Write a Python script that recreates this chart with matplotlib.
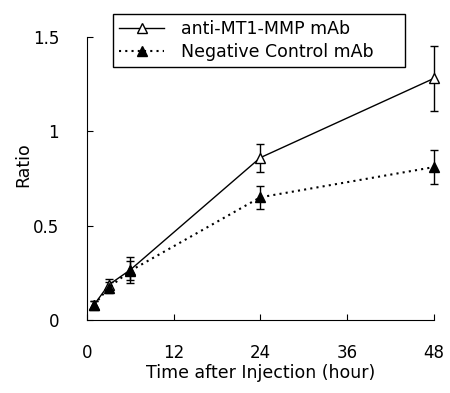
import matplotlib
matplotlib.use("Agg")
import matplotlib.pyplot as plt
from matplotlib.lines import Line2D

plt.rcParams['font.family'] = ['DejaVu Sans']

time_h = [1, 3, 6, 24, 48]
anti_mean = [0.08, 0.185, 0.265, 0.86, 1.28]
anti_err = [0.02, 0.03, 0.07, 0.075, 0.17]
ctrl_mean = [0.08, 0.17, 0.26, 0.65, 0.81]
ctrl_err = [0.02, 0.03, 0.05, 0.06, 0.09]
x_ticks = [0, 12, 24, 36, 48]
y_ticks = [0, 0.5, 1, 1.5]
y_ticklabels = ['0', '0.5', '1', '1.5']
series_labels = ['anti-MT1-MMP mAb', 'Negative Control mAb']

fig = plt.figure(figsize=(4.5, 3.93), dpi=100)
ax = fig.add_axes([0.193, 0.186, 0.771, 0.72])

dotted = (0, (1, 2))
ax.errorbar(time_h, anti_mean, yerr=anti_err, color='black', lw=1.0,
            marker='^', markersize=7.5, markerfacecolor='white', markeredgecolor='black',
            capsize=3, elinewidth=1.0, capthick=1.0, clip_on=False, zorder=3)
ax.errorbar(time_h, ctrl_mean, yerr=ctrl_err, color='black', lw=1.5, ls=dotted,
            marker='^', markersize=7.5, markerfacecolor='black', markeredgecolor='black',
            capsize=3, elinewidth=1.0, capthick=1.0, clip_on=False, zorder=3)

ax.set_xlim(0, 48)
ax.set_ylim(0, 1.5)
ax.set_xticks(x_ticks)
ax.set_yticks(y_ticks)
ax.set_yticklabels(y_ticklabels)
ax.spines['top'].set_visible(False)
ax.spines['right'].set_visible(False)
ax.tick_params(direction='in', length=4, labelsize=12, width=0.8)
ax.tick_params(axis='x', pad=17)
ax.tick_params(axis='y', pad=20)
ax.set_xlabel('Time after Injection (hour)', fontsize=12.5, labelpad=2)
ax.set_ylabel('Ratio', fontsize=12.5)
ax.yaxis.set_label_coords(-0.158, 0.55)

handles = [
    Line2D([], [], color='black', lw=1.0, marker='^', markersize=7.5,
           markerfacecolor='white', markeredgecolor='black'),
    Line2D([], [], color='black', lw=1.5, ls=dotted, marker='^', markersize=7.5,
           markerfacecolor='black', markeredgecolor='black'),
]
leg = ax.legend(handles, series_labels, loc='upper left',
                bbox_to_anchor=(0.075, 0.88, 0.841, 0.201), mode='expand',
                fontsize=12.5, frameon=True, fancybox=False, edgecolor='black',
                framealpha=1, handlelength=2.6, borderpad=0.35, labelspacing=0.3,
                borderaxespad=0, handletextpad=1.0)
leg.get_frame().set_linewidth(1.0)

fig.savefig('out.png', dpi=100)
